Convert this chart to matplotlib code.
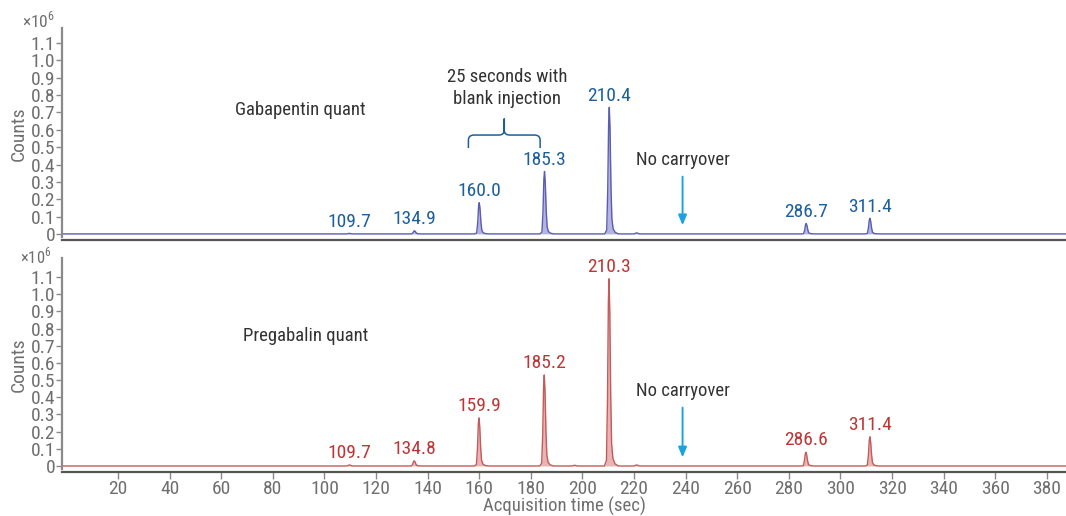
import matplotlib
matplotlib.use("Agg")
import matplotlib.pyplot as plt
from matplotlib import font_manager
from matplotlib.path import Path
from matplotlib.patches import PathPatch
import numpy as np

# ---------------- data ----------------
gaba_times = [109.7, 134.9, 160.0, 185.3, 210.4, 286.7, 311.4]
gaba_heights = [0.003, 0.018, 0.18, 0.36, 0.73, 0.06, 0.09]
gaba_labels = ["109.7", "134.9", "160.0", "185.3", "210.4", "286.7", "311.4"]
gaba_minor_times = [221.0]
gaba_minor_heights = [0.006]

prega_times = [109.7, 134.8, 159.9, 185.2, 210.3, 286.6, 311.4]
prega_heights = [0.006, 0.03, 0.28, 0.53, 1.09, 0.08, 0.17]
prega_labels = ["109.7", "134.8", "159.9", "185.2", "210.3", "286.6", "311.4"]
prega_minor_times = [197.0, 221.0]
prega_minor_heights = [0.004, 0.006]

# peak profile (offset in sec, fraction of apex)
profile_dx = [-1.8, -1.0, -0.6, -0.25, 0.0, 0.3, 0.65, 1.0, 1.5, 2.3, 3.6]
profile_fr = [0.0, 0.03, 0.35, 0.88, 1.0, 0.82, 0.38, 0.12, 0.04, 0.012, 0.0]

x_ticks = list(range(20, 381, 20))
y_ticks = [0, 0.1, 0.2, 0.3, 0.4, 0.5, 0.6, 0.7, 0.8, 0.9, 1.0, 1.1]
y_ticklabels = ["0", "0.1", "0.2", "0.3", "0.4", "0.5", "0.6", "0.7", "0.8", "0.9", "1.0", "1.1"]

# ---------------- style ----------------
names = {f.name for f in font_manager.fontManager.ttflist}
fam = "DejaVu Sans"
for cand in ["Roboto Condensed", "Liberation Sans Narrow", "Roboto"]:
    if cand in names:
        fam = cand
        break
plt.rcParams["font.family"] = [fam, "DejaVu Sans"]
plt.rcParams["mathtext.fontset"] = "custom"
plt.rcParams["mathtext.rm"] = fam

GRAY = "#6f6f6f"
SPINE = "#8a8a8a"
BLUE_TXT = "#1c5f9c"
BLUE_LINE = "#5a5db3"
BLUE_FILL = "#b3b5df"
RED_TXT = "#bf3434"
RED_LINE = "#c65a5a"
RED_FILL = "#e8b5b5"
ARROW = "#1aa3e0"
DARK = "#333333"

FS_TICK = 14
FS_PEAK = 14
FS_TXT = 13.5

W, H = 1066, 516
fig = plt.figure(figsize=(W / 100, H / 100), dpi=100)


def build_trace(times, heights, mtimes, mheights):
    pts = [(-2.0, 0.0)]
    allp = sorted(list(zip(times, heights)) + list(zip(mtimes, mheights)))
    for t, h in allp:
        for dx, fr in zip(profile_dx, profile_fr):
            pts.append((t + dx, h * fr))
    pts.append((390.0, 0.0))
    xs = np.array([p[0] for p in pts])
    ys = np.array([p[1] for p in pts])
    return xs, ys


def setup_axis(ax, ytop, show_x):
    ax.set_xlim(-1.7, 387.4)
    ax.set_ylim(-0.035, ytop)
    ax.set_yticks(y_ticks)
    ax.set_yticklabels(y_ticklabels)
    for s in ["top", "right"]:
        ax.spines[s].set_visible(False)
    ax.spines["left"].set_color(SPINE)
    ax.spines["left"].set_linewidth(1.6)
    ax.spines["left"].set_bounds(-0.02, ytop)
    ax.spines["bottom"].set_color("#555555")
    ax.spines["bottom"].set_linewidth(1.6)
    ax.tick_params(axis="y", direction="out", length=4, width=1, color=SPINE,
                   labelcolor=GRAY, labelsize=FS_TICK, pad=1)
    if show_x:
        ax.set_xticks(x_ticks)
        ax.tick_params(axis="x", direction="out", length=5, width=1, color=SPINE,
                       labelcolor=GRAY, labelsize=FS_TICK, pad=1)
    else:
        ax.set_xticks([])
    ax.set_ylabel("Counts", color=GRAY, fontsize=FS_TICK)
    ax.patch.set_alpha(0)


def draw_panel(ax, times, heights, labels, mt, mh, line_c, fill_c, txt_c):
    xs, ys = build_trace(times, heights, mt, mh)
    ax.fill_between(xs, 0, ys, color=fill_c, lw=0)
    ax.plot(xs, ys, color=line_c, lw=1.0)
    for t, h, lab in zip(times, heights, labels):
        ax.annotate(lab, (t, h), xytext=(0, 2), textcoords="offset points",
                    ha="center", va="bottom", color=txt_c, fontsize=FS_PEAK)


# top panel
ax1 = fig.add_axes([62 / W, 1 - 240 / H, (W - 62) / W, (240 - 28) / H])
setup_axis(ax1, 1.187, False)
draw_panel(ax1, gaba_times, gaba_heights, gaba_labels, gaba_minor_times,
           gaba_minor_heights, BLUE_LINE, BLUE_FILL, BLUE_TXT)
ax1.text(90.5, 0.715, "Gabapentin quant", ha="center", va="center", color=DARK, fontsize=FS_TXT)
ax1.text(170.8, 0.84, "25 seconds with\nblank injection", ha="center", va="center",
         color=DARK, fontsize=FS_TXT, linespacing=1.3)
# brace
xl, xr, xm = 155.8, 183.6, 169.7
yb, yh, yt = 0.495, 0.57, 0.665
r = 2.2
dy = 0.03
verts = [(xl, yb), (xl, yh - dy), (xl, yh), (xl + r, yh),
         (xm - r, yh), (xm, yh), (xm, yh + dy * 0.9), (xm, yt),
         (xm, yh + dy * 0.9), (xm, yh), (xm + r, yh),
         (xr - r, yh), (xr, yh), (xr, yh - dy), (xr, yb)]
codes = [Path.MOVETO, Path.LINETO, Path.CURVE3, Path.CURVE3,
         Path.LINETO, Path.CURVE3, Path.CURVE3, Path.LINETO,
         Path.LINETO, Path.CURVE3, Path.CURVE3,
         Path.LINETO, Path.CURVE3, Path.CURVE3, Path.LINETO]
ax1.add_patch(PathPatch(Path(verts, codes), fill=False, edgecolor=BLUE_TXT, lw=1.1))
ax1.text(238.8, 0.425, "No carryover", ha="center", va="center", color=DARK, fontsize=FS_TXT)
ax1.annotate("", xy=(238.8, 0.05), xytext=(238.8, 0.33),
             arrowprops=dict(arrowstyle="-|>,head_length=0.6,head_width=0.25",
                             color=ARROW, lw=1.4, shrinkA=0, shrinkB=0))
fig.text(38 / W, 1 - 20 / H, r"$\times10^6$", ha="center", va="center", color=GRAY, fontsize=12.5)

# bottom panel
ax2 = fig.add_axes([62 / W, 1 - 472 / H, (W - 62) / W, (472 - 258) / H])
setup_axis(ax2, 1.211, True)
draw_panel(ax2, prega_times, prega_heights, prega_labels, prega_minor_times,
           prega_minor_heights, RED_LINE, RED_FILL, RED_TXT)
ax2.text(92.8, 0.757, "Pregabalin quant", ha="center", va="center", color=DARK, fontsize=FS_TXT)
ax2.text(238.8, 0.435, "No carryover", ha="center", va="center", color=DARK, fontsize=FS_TXT)
ax2.annotate("", xy=(238.8, 0.05), xytext=(238.8, 0.34),
             arrowprops=dict(arrowstyle="-|>,head_length=0.6,head_width=0.25",
                             color=ARROW, lw=1.4, shrinkA=0, shrinkB=0))
ax2.set_xlabel("Acquisition time (sec)", color=GRAY, fontsize=13.5, labelpad=-1)
fig.text(36 / W, 1 - 256 / H, r"$\times10^6$", ha="center", va="center", color=GRAY, fontsize=12)

for ax in (ax1, ax2):
    ax.yaxis.set_label_coords(-34 / (W - 62), 0.5)

fig.savefig("out.png", dpi=100)
